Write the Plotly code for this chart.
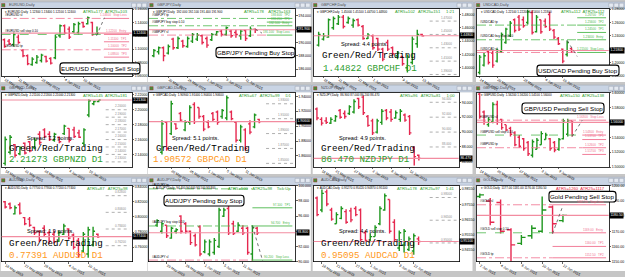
import plotly.graph_objects as go

W, H = 625, 277

# ================= DATA =================
EURUSD_OPEN  = [1.114,1.112,1.107,1.118,1.098,1.090,1.077,1.080,1.083,1.089,1.086,1.087,1.120,1.135,1.130,1.126,1.125,1.140,1.138,1.140,1.123]
EURUSD_HIGH  = [1.116,1.115,1.125,1.122,1.100,1.092,1.088,1.091,1.093,1.090,1.088,1.122,1.137,1.137,1.134,1.139,1.141,1.141,1.149,1.141,1.134]
EURUSD_LOW   = [1.102,1.106,1.104,1.108,1.088,1.076,1.075,1.078,1.080,1.080,1.077,1.085,1.117,1.122,1.115,1.124,1.122,1.132,1.137,1.120,1.121]
EURUSD_CLOSE = [1.104,1.108,1.122,1.110,1.090,1.078,1.085,1.088,1.091,1.082,1.079,1.118,1.135,1.124,1.118,1.137,1.138,1.134,1.147,1.122,1.124]
EURUSD_DATES = ["18 May 2015","21 May 2015","28 May 2015","4 Jun 2015","10 Jun 2015"]
EURUSD_DATE_BARS = [0,3,8,13,17]
EURUSD_LEVELS = {"sl": 1.146, "entry": 1.122, "tp": 1.099}
EURUSD_TARGETS = [1.146, 1.122, 1.111, 1.100, 1.088]
EURUSD_TARGET_NAMES = ["Stop Loss","Entry","TP1","TP2","TP3"]
EURUSD_TREND = [(19.9, 1.120), (21.6, 1.147)]

GBPJPY_OPEN  = [188.0,188.6,189.2,188.4,190.5,189.2,190.2,189.4,190.2,190.5,191.0,190.6,190.4,191.2,191.7,191.2,191.7,191.5,191.0,191.8,191.0,192.0]
GBPJPY_HIGH  = [189.0,189.4,189.4,189.7,190.7,190.9,190.4,190.9,191.4,191.4,191.2,190.9,191.4,191.7,191.9,192.4,191.9,191.9,191.9,191.9,192.4,192.1]
GBPJPY_LOW   = [187.8,188.2,187.2,188.2,188.9,189.0,189.2,189.2,189.9,190.2,189.7,189.2,190.2,191.0,190.9,191.0,190.7,190.7,190.4,190.2,190.8,191.4]
GBPJPY_CLOSE = [188.8,189.2,188.0,189.4,189.2,190.6,189.5,190.6,191.2,191.1,190.0,189.6,191.2,191.6,191.2,192.2,191.0,191.2,191.7,190.6,192.0,191.9]
GBPJPY_DATES = ["20 May 2015","26 May 2015","1 Jun 2015","5 Jun 2015","11 Jun 2015"]
GBPJPY_DATE_BARS = [3,7,11,15,19]
GBPJPY_LEVELS = {"sl": 191.1, "entry": 192.5, "tp": 193.6}
GBPJPY_TARGETS = [193.6, 193.05, 192.5, 191.1]
GBPJPY_TARGET_NAMES = ["TP2","TP1","Entry","Stop Loss"]
GBPJPY_TREND = [(21.0, 192.0), (22.4, 191.4)]

GBPCHF_OPEN  = [1.434,1.443,1.446,1.460,1.466,1.476,1.468,1.464,1.472,1.462,1.444,1.448,1.444,1.428,1.438,1.430,1.418,1.417,1.400,1.408,1.436,1.450]
GBPCHF_HIGH  = [1.454,1.452,1.474,1.477,1.479,1.479,1.477,1.474,1.474,1.464,1.452,1.450,1.445,1.430,1.442,1.432,1.425,1.418,1.420,1.447,1.457,1.451]
GBPCHF_LOW   = [1.432,1.441,1.445,1.457,1.464,1.459,1.466,1.460,1.462,1.442,1.443,1.427,1.425,1.410,1.425,1.418,1.413,1.403,1.393,1.405,1.430,1.447]
GBPCHF_CLOSE = [1.450,1.448,1.472,1.474,1.476,1.462,1.474,1.471,1.464,1.444,1.449,1.430,1.428,1.413,1.428,1.421,1.422,1.406,1.416,1.443,1.450,1.448]
GBPCHF_DATES = ["18 May 2015","21 May 2015","27 May 2015","1 Jun 2015","9 Jun 2015","15 Jun 2015"]
GBPCHF_DATE_BARS = [1,4,8,11,17,21]
GBPCHF_ROUND = [1.470, 1.450, 1.430, 1.410, 1.390]

USDCAD_OPEN  = [1.185,1.196,1.216,1.214,1.202,1.216,1.230,1.240,1.264,1.268,1.264,1.260,1.275,1.246,1.264,1.262,1.272,1.248,1.236,1.220,1.212,1.221]
USDCAD_HIGH  = [1.211,1.214,1.218,1.218,1.221,1.245,1.252,1.262,1.266,1.271,1.269,1.279,1.278,1.271,1.264,1.266,1.276,1.250,1.238,1.221,1.233,1.222]
USDCAD_LOW   = [1.182,1.194,1.197,1.192,1.200,1.214,1.228,1.238,1.245,1.247,1.252,1.257,1.242,1.245,1.243,1.252,1.247,1.235,1.226,1.199,1.209,1.214]
USDCAD_CLOSE = [1.208,1.210,1.200,1.196,1.218,1.242,1.250,1.259,1.248,1.250,1.255,1.276,1.245,1.268,1.246,1.254,1.250,1.238,1.228,1.202,1.230,1.218]
USDCAD_DATES = ["14 May 2015","20 May 2015","28 May 2015","4 Jun 2015","10 Jun 2015"]
USDCAD_DATE_BARS = [0,4,10,15,19]
USDCAD_LEVELS = {"sl": 1.215, "entry": 1.234, "tp": 1.256}
USDCAD_TARGETS = [1.267, 1.256, 1.245, 1.234, 1.215]
USDCAD_TARGET_NAMES = ["TP3","TP2","TP1","Entry","Stop Loss"]
USDCAD_TREND = [(20.0, 1.233), (22.3, 1.209)]

GBPNZD_OPEN  = [2.128,2.143,2.153,2.141,2.155,2.157,2.149,2.167,2.173,2.167,2.159,2.163,2.168,2.175,2.173,2.169,2.155,2.193,2.208,2.211]
GBPNZD_HIGH  = [2.164,2.166,2.154,2.151,2.156,2.158,2.162,2.171,2.175,2.171,2.169,2.164,2.180,2.175,2.177,2.173,2.175,2.214,2.212,2.213]
GBPNZD_LOW   = [2.125,2.140,2.136,2.139,2.140,2.143,2.147,2.153,2.162,2.158,2.157,2.155,2.166,2.156,2.162,2.162,2.151,2.190,2.206,2.210]
GBPNZD_CLOSE = [2.160,2.163,2.139,2.149,2.142,2.145,2.159,2.156,2.164,2.160,2.167,2.157,2.178,2.159,2.164,2.163,2.173,2.212,2.211,2.213]
GBPNZD_DATES = ["18 May 2015","22 May 2015","28 May 2015","4 Jun 2015","10 Jun 2015"]
GBPNZD_DATE_BARS = [0,4,8,13,17]
GBPNZD_ROUND = [2.200,2.190,2.180,2.170,2.160,2.150,2.140,2.130]

GBPCAD_OPEN  = [1.865,1.905,1.890,1.903,1.917,1.895,1.905,1.929,1.925,1.913,1.905,1.917,1.919,1.913,1.911,1.919,1.905,1.881,1.895,1.903,1.899,1.909]
GBPCAD_HIGH  = [1.908,1.906,1.934,1.904,1.919,1.908,1.928,1.932,1.925,1.915,1.908,1.919,1.921,1.923,1.941,1.921,1.906,1.902,1.897,1.908,1.917,1.910]
GBPCAD_LOW   = [1.862,1.867,1.888,1.895,1.906,1.893,1.902,1.903,1.910,1.893,1.897,1.906,1.902,1.910,1.908,1.908,1.878,1.878,1.867,1.889,1.897,1.904]
GBPCAD_CLOSE = [1.903,1.870,1.930,1.897,1.908,1.905,1.925,1.906,1.913,1.896,1.899,1.909,1.905,1.921,1.938,1.910,1.881,1.899,1.870,1.892,1.915,1.906]
GBPCAD_DATES = ["20 May 2015","26 May 2015","1 Jun 2015","5 Jun 2015","11 Jun 2015"]
GBPCAD_DATE_BARS = [2,6,10,14,18]
GBPCAD_ROUND = [1.930, 1.910, 1.890, 1.870, 1.850]

NZDJPY_OPEN  = [93.1,91.7,91.5,91.2,91.5,92.9,92.5,92.5,92.7,94.5,94.7,92.1,91.5,90.0,91.3,92.9,92.7,91.9,91.7,92.3,92.1,87.9,86.9]
NZDJPY_HIGH  = [93.3,92.0,92.0,92.0,92.3,93.1,92.9,93.6,94.4,94.6,94.9,92.3,91.8,91.8,93.1,93.1,93.1,92.9,93.1,92.5,92.3,88.1,87.0]
NZDJPY_LOW   = [91.6,90.9,91.1,91.1,91.4,91.8,91.8,92.3,92.5,93.1,92.3,90.7,89.6,89.8,91.0,91.6,91.4,91.8,91.4,91.4,89.6,85.5,86.2]
NZDJPY_CLOSE = [91.9,91.2,91.3,91.7,92.1,92.0,92.1,93.4,94.1,93.4,92.6,90.9,89.9,91.5,92.8,91.9,91.7,92.6,92.8,91.6,89.9,86.7,86.47]
NZDJPY_DATES = ["18 May 2015","21 May 2015","27 May 2015","2 Jun 2015","8 Jun 2015","12 Jun 2015"]
NZDJPY_DATE_BARS = [1,4,8,12,16,20]
NZDJPY_ROUND = [94.0, 92.0, 90.0, 88.0]

GBPUSD_OPEN  = [1.598,1.574,1.557,1.561,1.584,1.564,1.557,1.552,1.546,1.540,1.538,1.533,1.516,1.524,1.530,1.537,1.538,1.533,1.524,1.538,1.544,1.562]
GBPUSD_HIGH  = [1.600,1.576,1.567,1.587,1.589,1.565,1.557,1.554,1.548,1.543,1.539,1.535,1.537,1.539,1.548,1.546,1.539,1.535,1.539,1.565,1.565,1.562]
GBPUSD_LOW   = [1.565,1.557,1.554,1.559,1.557,1.550,1.548,1.541,1.528,1.526,1.522,1.515,1.513,1.524,1.530,1.537,1.522,1.520,1.522,1.537,1.541,1.541]
GBPUSD_CLOSE = [1.568,1.560,1.564,1.584,1.560,1.553,1.550,1.544,1.530,1.528,1.525,1.518,1.534,1.536,1.545,1.543,1.525,1.523,1.537,1.562,1.562,1.560]
GBPUSD_DATES = ["14 May 2015","20 May 2015","27 May 2015","3 Jun 2015","9 Jun 2015"]
GBPUSD_DATE_BARS = [0,4,9,14,18]
GBPUSD_LEVELS = {"sl": 1.563, "entry": 1.543, "tp": 1.526}
GBPUSD_TARGETS = [1.563, 1.543, 1.537, 1.526, 1.517]
GBPUSD_TARGET_NAMES = ["Stop Loss","Entry","TP1","TP2","TP3"]
GBPUSD_TREND = [(21.0, 1.541), (23.3, 1.563)]

AUDUSD_OPEN  = [0.820,0.817,0.804,0.816,0.799,0.797,0.786,0.781,0.785,0.779,0.777,0.768,0.777,0.784,0.776,0.769,0.755,0.751,0.763,0.777]
AUDUSD_HIGH  = [0.821,0.819,0.815,0.819,0.800,0.800,0.787,0.782,0.789,0.782,0.782,0.782,0.791,0.785,0.778,0.772,0.780,0.787,0.787,0.778]
AUDUSD_LOW   = [0.811,0.810,0.803,0.803,0.789,0.787,0.776,0.767,0.774,0.765,0.765,0.767,0.776,0.770,0.757,0.746,0.753,0.746,0.761,0.772]
AUDUSD_CLOSE = [0.813,0.812,0.812,0.805,0.791,0.789,0.779,0.769,0.777,0.768,0.767,0.779,0.788,0.772,0.760,0.750,0.777,0.783,0.781,0.774]
AUDUSD_DATES = ["18 May 2015","22 May 2015","28 May 2015","4 Jun 2015","10 Jun 2015"]
AUDUSD_DATE_BARS = [0,4,8,13,17]
AUDUSD_ROUND = [0.828, 0.806, 0.784, 0.762]

AUDJPY_OPEN  = [94.8,94.0,94.8,93.1,94.0,96.0,95.0,94.0,93.4,94.6,91.3,91.0,91.2,92.0,96.0,97.0,95.0,94.0,94.4,94.4,91.0,94.4]
AUDJPY_HIGH  = [95.6,95.2,94.8,94.6,94.4,96.1,95.2,94.1,93.7,94.8,92.9,92.9,93.1,97.1,97.1,97.4,95.4,95.2,94.8,94.6,94.8,94.6]
AUDJPY_LOW   = [94.6,93.7,93.1,93.0,93.7,93.7,93.7,92.2,92.0,90.7,91.1,90.7,90.9,91.8,95.9,93.5,93.5,93.9,93.5,90.9,90.1,93.5]
AUDJPY_CLOSE = [95.4,95.0,93.4,94.4,94.2,94.0,94.0,92.5,92.2,91.0,92.6,92.6,92.8,96.8,96.8,93.8,93.7,94.8,93.8,91.2,94.5,93.8]
AUDJPY_DATES = ["20 May 2015","26 May 2015","1 Jun 2015","5 Jun 2015","11 Jun 2015"]
AUDJPY_DATE_BARS = [2,6,10,14,18]
AUDJPY_LEVELS = {"sl": 90.2, "entry": 94.7, "tp": 99.6}
AUDJPY_TARGETS = [97.1, 94.7, 90.2]
AUDJPY_TARGET_NAMES = ["TP1","Entry","Stop Loss"]
AUDJPY_TREND = [(20.0, 94.7), (22.2, 90.0)]

AUDCAD_OPEN  = [0.9797,0.9717,0.9837,0.9717,0.9627,0.9662,0.9707,0.9712,0.9727,0.9717,0.9567,0.9507,0.9542,0.9627,0.9717,0.9787,0.9637,0.9467,0.9487,0.9457,0.9447,0.9527]
AUDCAD_HIGH  = [0.9807,0.9852,0.9852,0.9732,0.9702,0.9742,0.9722,0.9732,0.9742,0.9727,0.9582,0.9562,0.9617,0.9742,0.9827,0.9787,0.9657,0.9582,0.9592,0.9542,0.9562,0.9542]
AUDCAD_LOW   = [0.9677,0.9702,0.9742,0.9647,0.9627,0.9657,0.9627,0.9637,0.9677,0.9507,0.9507,0.9507,0.9542,0.9617,0.9712,0.9562,0.9507,0.9447,0.9437,0.9447,0.9422,0.9487]
AUDCAD_CLOSE = [0.9687,0.9827,0.9757,0.9657,0.9687,0.9727,0.9637,0.9652,0.9687,0.9522,0.9517,0.9542,0.9602,0.9727,0.9812,0.9577,0.9522,0.9567,0.9577,0.9527,0.9547,0.9510]
AUDCAD_DATES = ["18 May 2015","21 May 2015","27 May 2015","1 Jun 2015","9 Jun 2015","12 Jun 2015"]
AUDCAD_DATE_BARS = [1,4,8,11,17,20]
AUDCAD_ROUND = [0.980, 0.965, 0.950]

GOLD_OPEN  = [1193,1190,1189,1171,1162,1167,1170,1186,1177]
GOLD_HIGH  = [1195,1192,1191,1172,1167.5,1174,1193,1187,1181]
GOLD_LOW   = [1192,1174,1168.5,1150,1161,1165,1169,1168.5,1176]
GOLD_CLOSE = [1194,1176,1170,1161,1166,1172,1184,1175,1180.5]
GOLD_DATES = ["2 Jun 2015","4 Jun 2015","8 Jun 2015","10 Jun 2015","12 Jun 2015"]
GOLD_DATE_BARS = [0,2,4,6,8]
GOLD_LEVELS = {"sl": 1187.5, "entry": 1169.0, "tp": 1152.5}
GOLD_TARGETS = [1187.5, 1169.0, 1160.0, 1152.5]
GOLD_TARGET_NAMES = ["Stop Loss","Entry","TP1","TP2"]
GOLD_TREND = [(7.0, 1168.5), (8.0, 1187.0)]

# ================= STYLE =================
UP = "#1e961e"
DN = "#e5284f"
BID = "#f28ca0"
PINK = "#f0708e"
LGREEN = "#4cb84c"
GREEN_TXT = "#2e9e2e"
ORANGE_TXT = "#ff9a1c"
BG = "#c6c6c6"
TITLE = "#c9d4e4"
TINY = 3.5

# column: chart left, chart right, axis right, window left, window right (px)
COLS = [(1.7, 131.7, 147.4, 0.0, 147.8), (149.0, 295.3, 310.8, 148.2, 311.3),
        (313.7, 458.7, 472.5, 312.0, 473.2), (477.0, 608.7, 625.0, 474.8, 625.0)]
# row: chart top, chart bottom, window bottom, title top (px)
ROWS = [(7.3, 76.0, 82.5, 0.0), (93.3, 170.0, 177.2, 85.6), (189.3, 267.3, 277.0, 180.4)]

PANELS = [
    dict(sym="EURUSD", o=EURUSD_OPEN, h=EURUSD_HIGH, l=EURUSD_LOW, c=EURUSD_CLOSE, col=0, row=0,
         xr=(-0.6, 27.5), yr=(1.060, 1.160), dig=5, dates=EURUSD_DATES, dbars=EURUSD_DATE_BARS,
         atr="ATR5=177  ATR25=103", kind="sell", lv=EURUSD_LEVELS, tg=EURUSD_TARGETS,
         tn=EURUSD_TARGET_NAMES, ts=21.5, trend=EURUSD_TREND,
         callout="EUR/USD Pending Sell Stop", cbox=(60, 62.7, 140, 74)),
    dict(sym="GBPJPY", o=GBPJPY_OPEN, h=GBPJPY_HIGH, l=GBPJPY_LOW, c=GBPJPY_CLOSE, col=1, row=0,
         xr=(-1.0, 29.3), yr=(185.0, 195.0), dig=3, dates=GBPJPY_DATES, dbars=GBPJPY_DATE_BARS,
         atr="ATR5=178    ATR25=163", kind="buy", lv=GBPJPY_LEVELS, tg=GBPJPY_TARGETS,
         tn=GBPJPY_TARGET_NAMES, ts=23.4, trend=GBPJPY_TREND,
         callout="GBP/JPY Pending Buy Stop", cbox=(216, 46.7, 295, 57.3)),
    dict(sym="GBPCHF", o=GBPCHF_OPEN, h=GBPCHF_HIGH, l=GBPCHF_LOW, c=GBPCHF_CLOSE, col=2, row=0,
         xr=(-1.0, 28.4), yr=(1.388, 1.488), dig=5, dates=GBPCHF_DATES, dbars=GBPCHF_DATE_BARS,
         atr="ATR5=102   ATR25=151     1:21", rounds=GBPCHF_ROUND,
         big=dict(spread="Spread: 4.4 points.", price="1.44822 GBPCHF D1", color=GREEN_TXT,
                  s=(338.7, 43.3), g=(320.0, 55.0), p=(321.0, 68.5))),
    dict(sym="USDCAD", o=USDCAD_OPEN, h=USDCAD_HIGH, l=USDCAD_LOW, c=USDCAD_CLOSE, col=3, row=0,
         xr=(-0.6, 29.5), yr=(1.180, 1.280), dig=5, dates=USDCAD_DATES, dbars=USDCAD_DATE_BARS,
         atr="ATR5=112  ATR25=112", kind="buy", lv=USDCAD_LEVELS, tg=USDCAD_TARGETS,
         tn=USDCAD_TARGET_NAMES, ts=22.3, trend=USDCAD_TREND,
         callout="USD/CAD Pending Buy Stop", cbox=(537, 65, 619, 76)),
    dict(sym="GBPNZD", o=GBPNZD_OPEN, h=GBPNZD_HIGH, l=GBPNZD_LOW, c=GBPNZD_CLOSE, col=0, row=1,
         xr=(-0.7, 25.7), yr=(2.123, 2.223), dig=5, dates=GBPNZD_DATES, dbars=GBPNZD_DATE_BARS,
         atr="ATR5=145  ATR25=181", rounds=GBPNZD_ROUND,
         big=dict(spread="Spread: 7.2 points.", price="2.21273 GBPNZD D1", color=GREEN_TXT,
                  s=(25.0, 139.7), g=(6.7, 151.3), p=(6.7, 162.5))),
    dict(sym="GBPCAD", o=GBPCAD_OPEN, h=GBPCAD_HIGH, l=GBPCAD_LOW, c=GBPCAD_CLOSE, col=1, row=1,
         xr=(-2.8, 28.8), yr=(1.845, 1.945), dig=5, dates=GBPCAD_DATES, dbars=GBPCAD_DATE_BARS,
         atr="ATR5=67   ATR25=99     D1", rounds=GBPCAD_ROUND,
         big=dict(spread="Spread: 5.1 points.", price="1.90572 GBPCAD D1", color=ORANGE_TXT,
                  s=(170.0, 139.7), g=(154.0, 151.3), p=(150.5, 162.5))),
    dict(sym="NZDJPY", o=NZDJPY_OPEN, h=NZDJPY_HIGH, l=NZDJPY_LOW, c=NZDJPY_CLOSE, col=2, row=1,
         xr=(-0.7, 30.6), yr=(85.3, 95.3), dig=3, dates=NZDJPY_DATES, dbars=NZDJPY_DATE_BARS,
         atr="ATR5=96   ATR25=81     1:00", rounds=NZDJPY_ROUND,
         big=dict(spread="Spread: 4.9 points.", price="86.470 NZDJPY D1", color=GREEN_TXT,
                  s=(337.0, 139.7), g=(318.7, 151.3), p=(318.7, 162.5))),
    dict(sym="GBPUSD", o=GBPUSD_OPEN, h=GBPUSD_HIGH, l=GBPUSD_LOW, c=GBPUSD_CLOSE, col=3, row=1,
         xr=(-0.6, 29.3), yr=(1.500, 1.600), dig=5, dates=GBPUSD_DATES, dbars=GBPUSD_DATE_BARS,
         atr="ATR5=150  ATR25=138", kind="sell", lv=GBPUSD_LEVELS, tg=GBPUSD_TARGETS,
         tn=GBPUSD_TARGET_NAMES, ts=23.3, trend=GBPUSD_TREND,
         callout="GBP/USD Pending Sell Stop", cbox=(522, 104, 604, 115)),
    dict(sym="AUDUSD", o=AUDUSD_OPEN, h=AUDUSD_HIGH, l=AUDUSD_LOW, c=AUDUSD_CLOSE, col=0, row=2,
         xr=(-0.7, 25.9), yr=(0.741, 0.841), dig=5, dates=AUDUSD_DATES, dbars=AUDUSD_DATE_BARS,
         atr="ATR5=87   ATR25=98", rounds=AUDUSD_ROUND,
         big=dict(spread="Spread: 1.9 points.", price="0.77391 AUDUSD D1", color=ORANGE_TXT,
                  s=(25.0, 236.0), g=(6.7, 248.5), p=(6.7, 261.0))),
    dict(sym="AUDJPY", o=AUDJPY_OPEN, h=AUDJPY_HIGH, l=AUDJPY_LOW, c=AUDJPY_CLOSE, col=1, row=2,
         xr=(-1.7, 29.0), yr=(90.0, 100.0), dig=3, dates=AUDJPY_DATES, dbars=AUDJPY_DATE_BARS,
         atr="ATR5=100    ATR25=98    Tick:Up", kind="buy", lv=AUDJPY_LEVELS, tg=AUDJPY_TARGETS,
         tn=AUDJPY_TARGET_NAMES, ts=20.0, trend=AUDJPY_TREND,
         callout="AUD/JPY Pending Buy Stop", cbox=(164, 199, 244, 210)),
    dict(sym="AUDCAD", o=AUDCAD_OPEN, h=AUDCAD_HIGH, l=AUDCAD_LOW, c=AUDCAD_CLOSE, col=2, row=2,
         xr=(-0.7, 29.3), yr=(0.9377, 0.9877), dig=5, dates=AUDCAD_DATES, dbars=AUDCAD_DATE_BARS,
         atr="ATR5=178   ATR25=97     1:41", rounds=AUDCAD_ROUND, ytick=(0.9455, 0.01),
         big=dict(spread="Spread: 4.4 points.", price="0.95095 AUDCAD D1", color=ORANGE_TXT,
                  s=(337.0, 236.0), g=(318.7, 248.5), p=(318.7, 261.0))),
    dict(sym="GOLD", o=GOLD_OPEN, h=GOLD_HIGH, l=GOLD_LOW, c=GOLD_CLOSE, col=3, row=2,
         xr=(-0.27, 12.4), yr=(1150.0, 1200.0), dig=2, dates=GOLD_DATES, dbars=GOLD_DATE_BARS,
         atr="ATR5=1260  ATR25=1117", atrcolor="#e8203c", kind="sell", lv=GOLD_LEVELS,
         tg=GOLD_TARGETS, tn=GOLD_TARGET_NAMES, ts=7.0, trend=GOLD_TREND,
         callout="Gold Pending Sell Stop", cbox=(549, 195, 616, 206)),
]


def X(p):
    return p / W


def Y(p):
    return 1 - p / H


def rrect_path(x0, y0, x1, y1, r):
    pts = [
        ("M", [(x0 + r, y0)]), ("L", [(x1 - r, y0)]), ("Q", [(x1, y0), (x1, y0 + r)]),
        ("L", [(x1, y1 - r)]), ("Q", [(x1, y1), (x1 - r, y1)]), ("L", [(x0 + r, y1)]),
        ("Q", [(x0, y1), (x0, y1 - r)]), ("L", [(x0, y0 + r)]), ("Q", [(x0, y0), (x0 + r, y0)]),
    ]
    s = ""
    for cmd, pp in pts:
        s += cmd + " " + " ".join(f"{X(a):.5f},{Y(b):.5f}" for a, b in pp) + " "
    return s + "Z"


fig = go.Figure()
shapes = []
annos = []
layout_axes = {}

for k, p in enumerate(PANELS, 1):
    cx0, cx1, axr, wx0, wx1 = COLS[p["col"]]
    cy0, cy1, wby, tty = ROWS[p["row"]]
    xn = "x" if k == 1 else f"x{k}"
    yn = "y" if k == 1 else f"y{k}"
    dig = p["dig"]
    n = len(p["c"])
    xs = list(range(n))

    fig.add_trace(go.Ohlc(
        x=xs, open=p["o"], high=p["h"], low=p["l"], close=p["c"],
        increasing=dict(line=dict(color=UP, width=1.4)),
        decreasing=dict(line=dict(color=DN, width=1.4)),
        tickwidth=0.4, xaxis=xn, yaxis=yn, showlegend=False, hoverinfo="none"))

    layout_axes["xaxis" if k == 1 else f"xaxis{k}"] = dict(
        domain=[X(cx0), X(cx1)], range=list(p["xr"]), anchor=yn,
        showgrid=False, zeroline=False, showline=True, mirror=True,
        linecolor="black", linewidth=0.8, ticks="outside", ticklen=1.5,
        tickcolor="black", tickwidth=0.6,
        tickvals=p["dbars"], ticktext=p["dates"], ticklabelposition="outside right",
        tickfont=dict(size=TINY, color="black", family="Liberation Sans"),
        rangeslider=dict(visible=False), fixedrange=True)
    yax = dict(
        domain=[Y(cy1), Y(cy0)], range=list(p["yr"]), anchor=xn, side="right",
        showgrid=False, zeroline=False, showline=True, mirror=True,
        linecolor="black", linewidth=0.8, ticks="outside", ticklen=1.5,
        tickcolor="black", tickwidth=0.6, nticks=7,
        tickformat=f".{dig}f",
        tickfont=dict(size=TINY, color="black", family="Liberation Sans"), fixedrange=True)
    if "ytick" in p:
        yax.update(tick0=p["ytick"][0], dtick=p["ytick"][1])
    layout_axes["yaxis" if k == 1 else f"yaxis{k}"] = yax

    # window white area (chart + price/date scales)
    shapes.append(dict(type="rect", xref="paper", yref="paper", layer="below",
                       x0=X(cx0 - 1), x1=X(axr), y0=Y(cy0 - 0.6), y1=Y(wby),
                       fillcolor="white", line=dict(width=0)))
    # title bar
    shapes.append(dict(type="rect", xref="paper", yref="paper", layer="below",
                       x0=X(wx0), x1=X(wx1), y0=Y(tty), y1=Y(cy0 - 0.6),
                       fillcolor=TITLE, line=dict(width=0.5, color="#9aa6b8")))
    shapes.append(dict(type="rect", xref="paper", yref="paper", layer="above",
                       x0=X(wx0 + 1.5), x1=X(wx0 + 5), y0=Y(tty + 1.5), y1=Y(tty + 5.0),
                       fillcolor="#4a8a3a", line=dict(width=0.4, color="#c03030")))
    for b in range(3):
        bx1 = wx1 - 1.2 - b * 5.2
        shapes.append(dict(type="rect", xref="paper", yref="paper", layer="above",
                           x0=X(bx1 - 4.6), x1=X(bx1), y0=Y(tty + 1.2), y1=Y(tty + 5.4),
                           fillcolor="#e4e9f1", line=dict(width=0.4, color="#8890a0")))
    annos.append(dict(xref="paper", yref="paper", x=X(wx0 + 6.5), y=Y(tty + 3.3),
                      text=f"{p['sym']},Daily", showarrow=False, xanchor="left", yanchor="middle",
                      font=dict(size=3.8, color="#4a4a4a", family="Liberation Sans")))

    last = n - 1
    close = p["c"][last]
    # bid line
    shapes.append(dict(type="line", xref=f"{xn} domain", yref=yn, x0=0, x1=1, y0=close, y1=close,
                       line=dict(color=BID, width=1.1), layer="above"))
    # current price box
    annos.append(dict(xref="paper", yref=yn, x=X(cx1 + 0.3), y=close, text=f"{close:.{dig}f}",
                      showarrow=False, xanchor="left", yanchor="middle", bgcolor="black",
                      borderpad=0.4, font=dict(size=TINY, color="white", family="Liberation Sans")))
    # info line
    annos.append(dict(xref="paper", yref="paper", x=X(cx0 + 1.5), y=Y(cy0 + 2.6),
                      text=(f"\u25be {p['sym']},Daily  {p['o'][last]:.{dig}f} {p['h'][last]:.{dig}f} "
                            f"{p['l'][last]:.{dig}f} {close:.{dig}f}"),
                      showarrow=False, xanchor="left", yanchor="middle",
                      font=dict(size=3.0, color="black", family="Liberation Sans")))
    # ATR
    annos.append(dict(xref="paper", yref="paper", x=X(cx1 - 2), y=Y(cy0 + 2.6), text=p["atr"],
                      showarrow=False, xanchor="right", yanchor="middle",
                      font=dict(size=4.2, color=p.get("atrcolor", GREEN_TXT), family="Liberation Sans")))

    # pending order objects
    if "lv" in p:
        lv = p["lv"]
        x_end = p["ts"]
        sell = p["kind"] == "sell"
        for key, col, dash, lab in [
            ("sl", PINK, "dashdot", f"#{p['sym']} sl"),
            ("entry", LGREEN, "dash" if sell else "dashdot", f"#{p['sym']} {p['kind']} stop 0.10"),
            ("tp", PINK if sell else LGREEN, "dashdot", f"#{p['sym']} tp"),
        ]:
            v = lv[key]
            shapes.append(dict(type="line", xref=xn, yref=yn, x0=p["xr"][0], x1=x_end, y0=v, y1=v,
                               line=dict(color=col, width=0.8, dash=dash)))
            annos.append(dict(xref=f"{xn} domain", yref=yn, x=0.01, y=v, text=lab, showarrow=False,
                              xanchor="left", yanchor="bottom", yshift=-0.5,
                              font=dict(size=3.0, color="black", family="Liberation Sans")))
        tcol = PINK if sell else LGREEN
        xr1 = p["xr"][1] - 0.02 * (p["xr"][1] - p["xr"][0])
        for v, nm in zip(p["tg"], p["tn"]):
            shapes.append(dict(type="line", xref=xn, yref=yn, x0=x_end, x1=xr1, y0=v, y1=v,
                               line=dict(color=tcol, width=0.9)))
            annos.append(dict(xref=xn, yref=yn, x=xr1, y=v, text=f"{v:.{dig}f}   {nm}",
                              showarrow=False, xanchor="right", yanchor="bottom", yshift=-0.8,
                              font=dict(size=3.0, color=tcol, family="Liberation Sans")))
        (tx0, ty0), (tx1, ty1) = p["trend"]
        shapes.append(dict(type="line", xref=xn, yref=yn, x0=tx0, y0=ty0, x1=tx1, y1=ty1,
                           line=dict(color="#505050", width=0.8, dash="dot")))
        bx0, by0, bx1, by1 = p["cbox"]
        shapes.append(dict(type="path", xref="paper", yref="paper", layer="above",
                           path=rrect_path(bx0, by0, bx1, by1, 3.0),
                           fillcolor="white", line=dict(color="black", width=1.1)))
        annos.append(dict(xref="paper", yref="paper", x=X((bx0 + bx1) / 2), y=Y((by0 + by1) / 2),
                          text=p["callout"], showarrow=False, xanchor="center", yanchor="middle",
                          font=dict(size=6.2, color="black", family="Liberation Sans")))

    # round-number levels
    if "rounds" in p:
        for v in p["rounds"]:
            shapes.append(dict(type="line", xref=f"{xn} domain", yref=yn, x0=0.80, x1=0.985,
                               y0=v, y1=v, line=dict(color="#9a9a9a", width=0.8, dash="dot")))
            annos.append(dict(xref=f"{xn} domain", yref=yn, x=0.97, y=v, text=f"{v:.{dig}f}",
                              showarrow=False, xanchor="right", yanchor="bottom", yshift=-0.6,
                              font=dict(size=3.0, color="#8a8a8a", family="Liberation Sans")))

    # big overlay texts
    if "big" in p:
        b = p["big"]
        annos.append(dict(xref="paper", yref="paper", x=X(b["s"][0]), y=Y(b["s"][1]), text=b["spread"],
                          showarrow=False, xanchor="left", yanchor="middle",
                          font=dict(size=5.6, color="black", family="Liberation Sans")))
        annos.append(dict(xref="paper", yref="paper", x=X(b["g"][0]), y=Y(b["g"][1]),
                          text="Green/Red/Trading", showarrow=False, xanchor="left", yanchor="middle",
                          font=dict(size=9.2, color="black", family="Liberation Mono")))
        annos.append(dict(xref="paper", yref="paper", x=X(b["p"][0]), y=Y(b["p"][1]), text=b["price"],
                          showarrow=False, xanchor="left", yanchor="middle",
                          font=dict(size=9.2, color=b["color"], family="Liberation Mono")))

fig.update_layout(
    width=W, height=H, margin=dict(l=0, r=0, t=0, b=0),
    paper_bgcolor=BG, plot_bgcolor="white", showlegend=False,
    shapes=shapes, annotations=annos, **layout_axes)

fig.write_html("out.html", config=dict(displayModeBar=False, staticPlot=True))
